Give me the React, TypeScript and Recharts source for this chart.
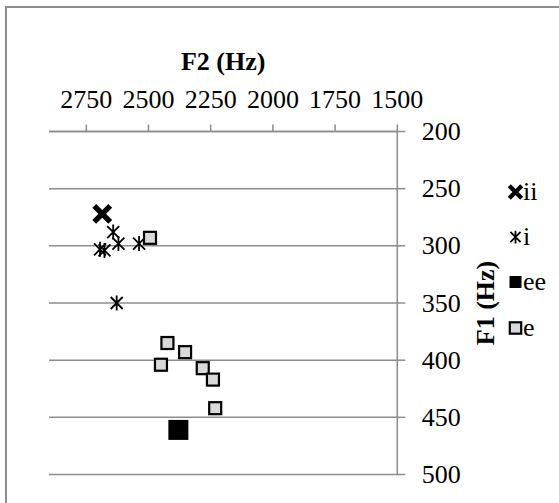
import React from 'react';
import { ScatterChart, Scatter, XAxis, YAxis, CartesianGrid, Label } from 'recharts';

// F2 (x, reversed) and F1 (y, reversed) readings per vowel
const f2Ticks = [2750, 2500, 2250, 2000, 1750, 1500];
const f1Ticks = [200, 250, 300, 350, 400, 450, 500];

const iiF2 = [2686];
const iiF1 = [272];
const iF2 = [2695, 2677, 2642, 2621, 2538, 2628];
const iF1 = [303, 304, 288, 298, 298, 350];
const eeF2 = [2380];
const eeF1 = [461];
const eF2 = [2494, 2424, 2353, 2450, 2282, 2241, 2232];
const eF1 = [293, 385, 393, 404, 407, 417, 442];

const vowels = ['ii', 'i', 'ee', 'e'];

const toPoints = (xs: number[], ys: number[]) => xs.map((f2, i) => ({ f2, f1: ys[i] }));

const GRID = '#8c8c8c';
const FONT = '"Liberation Serif", "Times New Roman", serif';

type MarkProps = { cx?: number; cy?: number; s?: number };

const BoldX = ({ cx = 0, cy = 0, s = 1 }: MarkProps) => {
  const d = 8 * s;
  return (
    <path
      d={`M${cx - d},${cy - d}L${cx + d},${cy + d}M${cx - d},${cy + d}L${cx + d},${cy - d}`}
      stroke="#000"
      strokeWidth={5.5 * s}
      fill="none"
    />
  );
};

const Star = ({ cx = 0, cy = 0, s = 1 }: MarkProps) => {
  const d = 6 * s;
  const v = 7.5 * s;
  return (
    <path
      d={`M${cx - d},${cy - d}L${cx + d},${cy + d}M${cx - d},${cy + d}L${cx + d},${cy - d}M${cx},${cy - v}L${cx},${cy + v}`}
      stroke="#000"
      strokeWidth={1.8}
      fill="none"
    />
  );
};

const BlackSquare = ({ cx = 0, cy = 0, s = 1 }: MarkProps) => {
  const h = 10 * s;
  return <rect x={cx - h} y={cy - h} width={2 * h} height={2 * h} fill="#000" />;
};

const GreySquare = ({ cx = 0, cy = 0, s = 1 }: MarkProps) => {
  const h = 6 * s;
  return <rect x={cx - h} y={cy - h} width={2 * h} height={2 * h} fill="#d9d9d9" stroke="#000" strokeWidth={2.2} />;
};

const markers: Record<string, (p: MarkProps) => React.ReactElement> = {
  ii: BoldX,
  i: Star,
  ee: BlackSquare,
  e: GreySquare,
};
const legendScale: Record<string, number> = { ii: 0.78, i: 0.85, ee: 0.6, e: 0.95 };

const XTick = ({ x, y, payload }: any) => (
  <text x={x} y={y} textAnchor="middle" fontFamily={FONT} fontSize={26} fill="#000">
    {payload.value}
  </text>
);

const YTick = ({ x, y, payload }: any) => (
  <text x={x} y={y} textAnchor="start" dominantBaseline="central" fontFamily={FONT} fontSize={26} fill="#000">
    {payload.value}
  </text>
);

export default function App() {
  return (
    <div style={{ position: 'absolute', left: 0, top: 0, width: 559, height: 503, overflow: 'hidden', background: '#fff', fontFamily: FONT }}>
      <div
        style={{
          position: 'absolute',
          left: 5,
          top: 6,
          width: 700,
          height: 700,
          borderTop: `2px solid ${GRID}`,
          borderLeft: `2px solid ${GRID}`,
        }}
      />
      <div style={{ position: 'absolute', left: 0, top: 0 }}>
        <ScatterChart width={559} height={503} margin={{ top: 0, left: 49, right: 0, bottom: 28.5 }}>
          <CartesianGrid vertical={false} stroke={GRID} strokeWidth={1.5} />
          <XAxis
            type="number"
            dataKey="f2"
            orientation="top"
            domain={[1500, 2900]}
            reversed
            ticks={f2Ticks}
            height={131.5}
            tickSize={7}
            tickMargin={16.5}
            axisLine={{ stroke: GRID, strokeWidth: 1.5 }}
            tickLine={{ stroke: GRID, strokeWidth: 1.5 }}
            tick={<XTick />}
            allowDataOverflow
          >
            <Label
              content={({ viewBox }: any) => (
                <text
                  x={viewBox.x + viewBox.width / 2}
                  y={viewBox.y + 70}
                  textAnchor="middle"
                  fontFamily={FONT}
                  fontWeight="bold"
                  fontSize={26}
                  fill="#000"
                >
                  F2 (Hz)
                </text>
              )}
            />
          </XAxis>
          <YAxis
            type="number"
            dataKey="f1"
            orientation="right"
            domain={[200, 500]}
            reversed
            ticks={f1Ticks}
            width={161.7}
            tickSize={8}
            tickMargin={16.5}
            axisLine={{ stroke: GRID, strokeWidth: 1.5 }}
            tickLine={{ stroke: GRID, strokeWidth: 1.5 }}
            tick={<YTick />}
            allowDataOverflow
          >
            <Label
              content={({ viewBox }: any) => {
                const x = viewBox.x + 88;
                const y = viewBox.y + viewBox.height / 2;
                return (
                  <text
                    x={x}
                    y={y}
                    transform={`rotate(-90, ${x}, ${y})`}
                    textAnchor="middle"
                    dominantBaseline="central"
                    fontFamily={FONT}
                    fontWeight="bold"
                    fontSize={26}
                    fill="#000"
                  >
                    F1 (Hz)
                  </text>
                );
              }}
            />
          </YAxis>
          <Scatter name="ii" data={toPoints(iiF2, iiF1)} shape={(p: any) => <BoldX cx={p.cx} cy={p.cy} />} isAnimationActive={false} />
          <Scatter name="i" data={toPoints(iF2, iF1)} shape={(p: any) => <Star cx={p.cx} cy={p.cy} />} isAnimationActive={false} />
          <Scatter name="ee" data={toPoints(eeF2, eeF1)} shape={(p: any) => <BlackSquare cx={p.cx} cy={p.cy} />} isAnimationActive={false} />
          <Scatter name="e" data={toPoints(eF2, eF1)} shape={(p: any) => <GreySquare cx={p.cx} cy={p.cy} />} isAnimationActive={false} />
        </ScatterChart>
      </div>
      <div style={{ position: 'absolute', left: 508, top: 169.5 }}>
        {vowels.map((v) => {
          const Mark = markers[v];
          return (
            <div key={v} style={{ display: 'flex', alignItems: 'center', height: 45.2 }}>
              <svg width={15} height={20} style={{ display: 'block' }}>
                <Mark cx={7.5} cy={10} s={legendScale[v]} />
              </svg>
              <span style={{ fontSize: 26, lineHeight: '26px', fontFamily: FONT, color: '#000' }}>{v}</span>
            </div>
          );
        })}
      </div>
    </div>
  );
}
